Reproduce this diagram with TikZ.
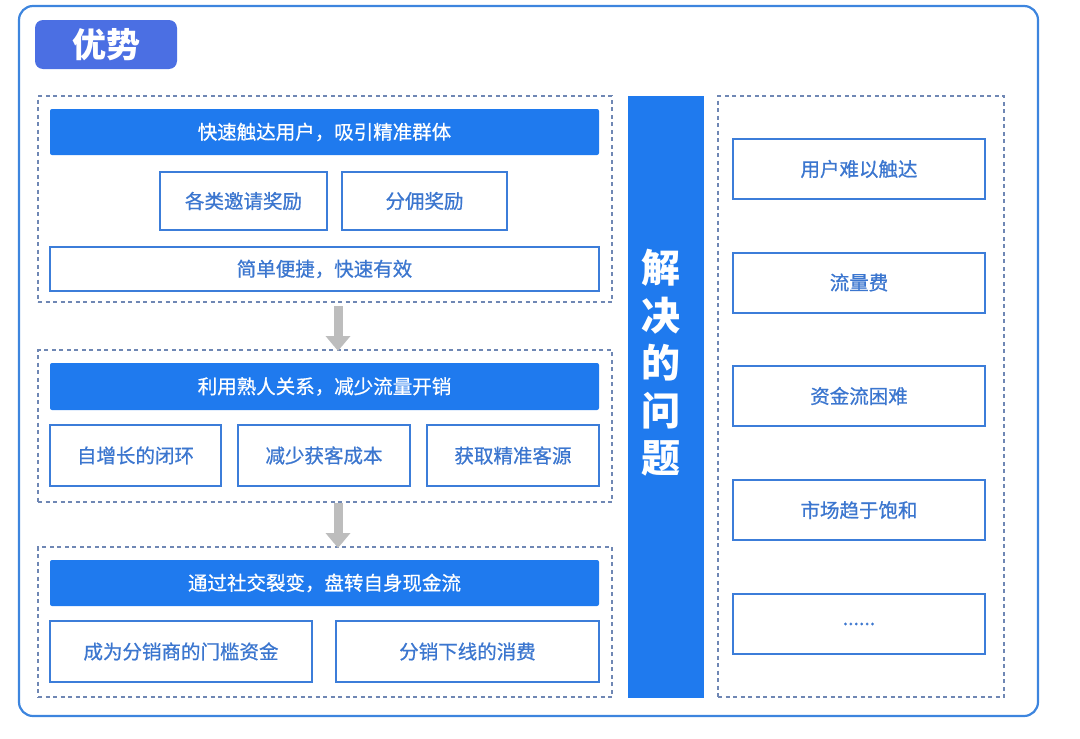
\documentclass[tikz,border=0pt]{standalone}
\usepackage{fontspec}
\setmainfont{Noto Sans CJK SC}
\newfontfamily\cjkmed[FakeBold=0.7]{Noto Sans CJK SC}
\usetikzlibrary{arrows.meta}
\definecolor{titlebg}{HTML}{4B6FE3}
\definecolor{hdrblue}{HTML}{1F7AEE}
\definecolor{boxline}{HTML}{3C7DD9}
\definecolor{boxtext}{HTML}{3B76CF}
\definecolor{dashcol}{HTML}{6F87B4}
\definecolor{outerline}{HTML}{3D85DE}
\definecolor{arrgray}{HTML}{BDBDBD}
\tikzset{
  grp/.style={draw=dashcol, line width=1.8pt, dash pattern=on 4pt off 3.5pt, minimum width=#1, inner sep=0pt},
  hdr/.style={fill=hdrblue, text=white, rounded corners=2pt, minimum width=549pt, minimum height=46pt, inner sep=0pt, font=\fontsize{19.5}{23}\cjkmed},
  wbox/.style={draw=boxline, line width=2pt, fill=white, text=boxtext, inner sep=0pt, font=\fontsize{19.5}{23}\cjkmed},
  flowarrow/.style={draw=arrgray, line width=9pt, -{Triangle[width=24pt,length=15pt]}},
}
\begin{document}
\begin{tikzpicture}[x=1pt,y=-1pt]
\useasboundingbox (0,0) rectangle (1080,739);
\draw[outerline, line width=2.2pt, rounded corners=14pt] (19,6) rectangle (1038,716);
\node[fill=titlebg, rounded corners=8pt, minimum width=142pt, minimum height=49pt, inner sep=0pt, text=white, font=\fontsize{34}{38}\selectfont\bfseries] (title) at (106,44.5) {优势};

% group 1
\node[grp=574pt, minimum height=206pt] (g1) at (325,199) {};
\node[hdr] (h1) at (324.5,132) {快速触达用户，吸引精准群体};
\node[wbox, minimum width=167pt, minimum height=58pt] (b11) at (243.5,201) {各类邀请奖励};
\node[wbox, minimum width=165pt, minimum height=58pt] (b12) at (424.5,201) {分佣奖励};
\node[wbox, minimum width=549pt, minimum height=44pt] (b13) at (324.5,269) {简单便捷，快速有效};

% group 2
\node[grp=574pt, minimum height=152pt] (g2) at (325,426) {};
\node[hdr, minimum height=47pt] (h2) at (324.5,386.5) {利用熟人关系，减少流量开销};
\node[wbox, minimum width=171pt, minimum height=61pt] (b21) at (135.5,455.5) {自增长的闭环};
\node[wbox, minimum width=172pt, minimum height=61pt] (b22) at (324,455.5) {减少获客成本};
\node[wbox, minimum width=172pt, minimum height=61pt] (b23) at (513,455.5) {获取精准客源};

% group 3
\node[grp=574pt, minimum height=150pt] (g3) at (325,622) {};
\node[hdr] (h3) at (324.5,583) {通过社交裂变，盘转自身现金流};
\node[wbox, minimum width=262pt, minimum height=61pt] (b31) at (181,651.5) {成为分销商的门槛资金};
\node[wbox, minimum width=263pt, minimum height=61pt] (b32) at (467.5,651.5) {分销下线的消费};

% arrows
\coordinate (a1s) at (338,306);
\coordinate (a1e) at (338,351);
\coordinate (a2s) at (338,503);
\coordinate (a2e) at (338,548);
\draw[flowarrow] (a1s) -- (a1e);
\draw[flowarrow] (a2s) -- (a2e);

% middle bar
\node[fill=hdrblue, minimum width=76pt, minimum height=602pt, inner sep=0pt] (bar) at (666,397) {};
\node[text=white, align=center, font=\fontsize{39}{47.5}\selectfont\bfseries] (bartext) at (661,363) {解\\决\\的\\问\\题};

% right group
\node[grp=286pt, minimum height=601pt] (g4) at (861,396.5) {};
\node[wbox, minimum width=252pt, minimum height=60pt] (r1) at (859,169) {用户难以触达};
\node[wbox, minimum width=252pt, minimum height=60pt] (r2) at (859,282.5) {流量费};
\node[wbox, minimum width=252pt, minimum height=60pt] (r3) at (859,396) {资金流困难};
\node[wbox, minimum width=252pt, minimum height=60pt] (r4) at (859,510) {市场趋于饱和};
\node[wbox, minimum width=252pt, minimum height=60pt] (r5) at (859,624) {......};
\end{tikzpicture}
\end{document}
